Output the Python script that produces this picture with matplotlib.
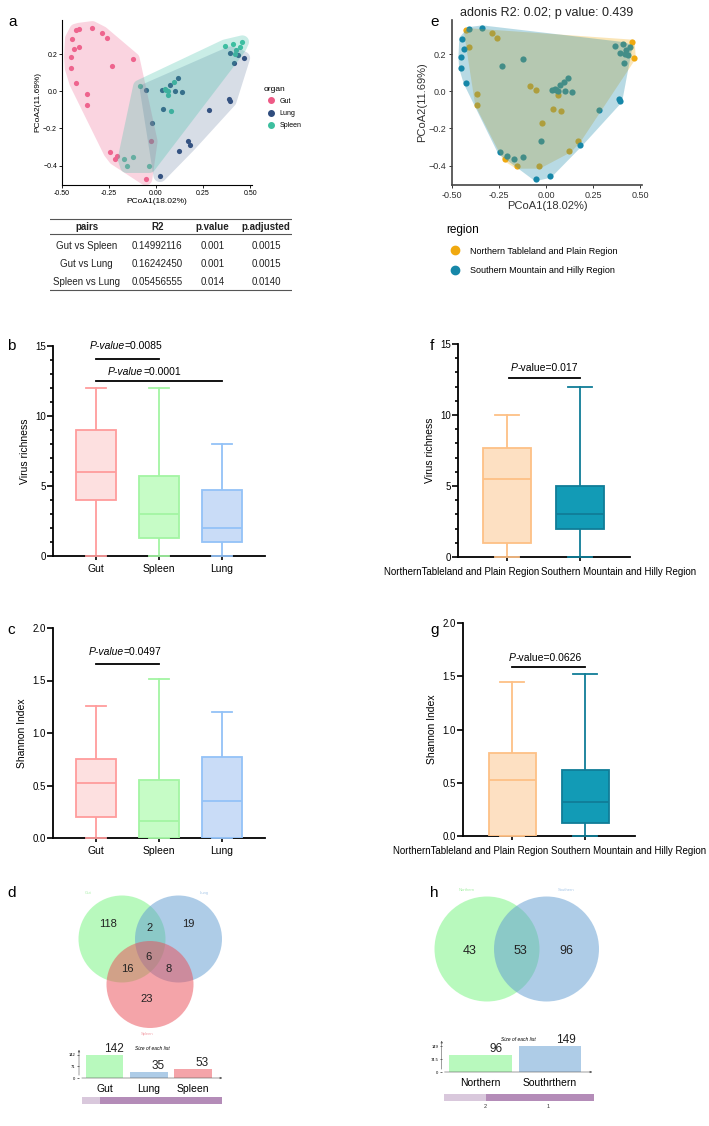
import numpy as np
import matplotlib.pyplot as plt
from matplotlib.patches import Circle, Polygon
from matplotlib.lines import Line2D

plt.rcParams['font.family'] = ['Liberation Sans', 'DejaVu Sans']

# ---- PCoA scores (same samples in panel a and e) ----
pc1 = [-0.408, -0.339, -0.426, -0.287, -0.262, -0.449, -0.436, -0.408, -0.454, -0.450,
       -0.426, -0.232, -0.122, -0.369, -0.365,
       -0.087, -0.051, 0.062, 0.033, 0.045, 0.073, 0.094, 0.119, 0.062, 0.101, 0.136, 0.054,
       0.035, 0.080, -0.020, 0.284, 0.390, 0.393, 0.172, 0.181, 0.124,
       0.367, 0.411, 0.394, 0.426, 0.447, 0.438, 0.415, 0.422, 0.459, 0.465,
       -0.027, -0.245, -0.206, -0.169, -0.121, -0.218, -0.156, -0.036, -0.055, 0.021]
pc2 = [0.335, 0.344, 0.330, 0.317, 0.288, 0.285, 0.231, 0.240, 0.186, 0.124,
       0.045, 0.137, 0.175, -0.013, -0.072,
       0.027, 0.009, -0.018, 0.005, 0.014, 0.032, 0.050, 0.074, 0.002, 0.002, -0.004, 0.009,
       -0.094, -0.106, -0.171, -0.099, -0.040, -0.052, -0.268, -0.288, -0.319,
       0.245, 0.254, 0.207, 0.222, 0.240, 0.195, 0.155, 0.204, 0.267, 0.180,
       -0.270, -0.328, -0.346, -0.364, -0.355, -0.364, -0.405, -0.405, -0.472, -0.454]
organ = (['Gut'] * 15 +
         ['Spleen', 'Lung', 'Spleen', 'Lung', 'Spleen', 'Lung', 'Spleen', 'Lung', 'Spleen', 'Lung', 'Lung', 'Spleen',
          'Lung', 'Spleen', 'Lung', 'Lung', 'Lung', 'Lung', 'Lung', 'Lung', 'Lung',
          'Spleen', 'Spleen', 'Lung', 'Spleen', 'Spleen', 'Lung', 'Lung', 'Spleen', 'Spleen', 'Lung',
          'Gut', 'Gut', 'Gut', 'Spleen', 'Spleen', 'Gut', 'Spleen', 'Spleen', 'Gut', 'Lung'])
region = (['S', 'S', 'N', 'N', 'N', 'S', 'S', 'N', 'S', 'S', 'S', 'S', 'S', 'N', 'N',
           'N', 'N', 'N', 'S', 'S', 'S', 'S', 'S', 'S', 'S', 'S', 'S',
           'N', 'N', 'N', 'S', 'S', 'S', 'N', 'S', 'N',
           'S', 'S', 'S', 'S', 'S', 'S', 'S', 'S', 'N', 'N',
           'S', 'S', 'S', 'S', 'S', 'N', 'N', 'N', 'S', 'S'])

# ---- adonis pairwise table ----
pairs = ['Gut vs Spleen', 'Gut vs Lung', 'Spleen vs Lung']
r2 = ['0.14992116', '0.16242450', '0.05456555']
pval = ['0.001', '0.001', '0.014']
padj = ['0.0015', '0.0015', '0.0140']

# ---- box plot summaries (whislo, q1, med, q3, whishi) ----
organs = ['Gut', 'Spleen', 'Lung']
rich_organ = [[0, 4.0, 6.0, 9.0, 12], [0, 1.3, 3.0, 5.7, 12], [0, 1.0, 2.0, 4.7, 8]]
shan_organ = [[0, 0.20, 0.52, 0.75, 1.26], [0, 0.0, 0.16, 0.55, 1.51], [0, 0.0, 0.35, 0.77, 1.20]]
regions = ['NorthernTableland and Plain Region', 'Southern Mountain and Hilly Region']
rich_region = [[0, 1.0, 5.5, 7.7, 10], [0, 2.0, 3.0, 5.0, 12]]
shan_region = [[0, 0.0, 0.53, 0.78, 1.45], [0, 0.12, 0.32, 0.62, 1.52]]

# ---- venn counts ----
venn3_counts = {'Gut': 118, 'Lung': 19, 'Spleen': 23, 'Gut&Lung': 2, 'Gut&Spleen': 16,
                'Lung&Spleen': 8, 'all': 6}
size3_names = ['Gut', 'Lung', 'Spleen']
size3 = [142, 35, 53]
venn2_counts = {'Northern': 43, 'both': 53, 'Southern': 96}
size2_names = ['Northern', 'Southrthern']
size2 = [96, 149]

W, H = 709, 1126
fig = plt.figure(figsize=(W / 100, H / 100), dpi=100)


def px_axes(x0, y0, x1, y1):
    return fig.add_axes([x0 / W, 1 - y1 / H, (x1 - x0) / W, (y1 - y0) / H])


def convex_hull(p):
    p = sorted(set(map(tuple, np.round(p, 6))))

    def cross(o, a, b):
        return (a[0] - o[0]) * (b[1] - o[1]) - (a[1] - o[1]) * (b[0] - o[0])
    lower, upper = [], []
    for q in p:
        while len(lower) >= 2 and cross(lower[-2], lower[-1], q) <= 0:
            lower.pop()
        lower.append(q)
    for q in reversed(p):
        while len(upper) >= 2 and cross(upper[-2], upper[-1], q) <= 0:
            upper.pop()
        upper.append(q)
    return np.array(lower[:-1] + upper[:-1])


def rounded_hull(x, y, r, n=32):
    t = np.linspace(0, 2 * np.pi, n, endpoint=False)
    pts = np.concatenate([np.column_stack([xi + r * np.cos(t), yi + r * np.sin(t)]) for xi, yi in zip(x, y)])
    return convex_hull(pts)


# overlay axes in pixel coords for letters and venns
ov = fig.add_axes([0, 0, 1, 1])
ov.set_xlim(0, W)
ov.set_ylim(H, 0)
ov.axis('off')
for lab, x, y in [('a', 8, 22), ('e', 430, 22), ('b', 7, 346), ('f', 430, 346),
                  ('c', 7, 630), ('g', 430, 630), ('d', 7, 893), ('h', 430, 893)]:
    ov.text(x, y, lab, fontsize=11, va='center', ha='left')

pc1 = np.array(pc1)
pc2 = np.array(pc2)
organ = np.array(organ)
region = np.array(region)

# ================= panel a =================
ax = px_axes(62, 20, 252, 185)
org_col = {'Gut': '#ee5a86', 'Lung': '#2f4d7e', 'Spleen': '#3dbf9f'}
org_fill = {'Gut': '#f07aa0', 'Lung': '#4a6590', 'Spleen': '#3dbfa8'}
for o in ['Gut', 'Lung', 'Spleen']:
    m = organ == o
    ax.scatter(pc1[m], pc2[m], s=14, color=org_col[o], lw=0, zorder=2)
for o, a in [('Gut', 0.32), ('Lung', 0.22), ('Spleen', 0.28)]:
    m = organ == o
    hv = rounded_hull(pc1[m], pc2[m], 0.035)
    ax.add_patch(Polygon(hv, closed=True, fc=org_fill[o], ec='none', alpha=a, zorder=3))
ax.set_xlim(-0.5, 0.51)
ax.set_ylim(-0.505, 0.385)
ax.set_xticks([-0.5, -0.25, 0, 0.25, 0.5])
ax.set_xticklabels(['-0.50', '-0.25', '0.00', '0.25', '0.50'])
ax.set_yticks([-0.4, -0.2, 0.0, 0.2])
ax.tick_params(labelsize=5, length=2, width=0.6, pad=1.5)
for s in ['top', 'right']:
    ax.spines[s].set_visible(False)
for s in ['left', 'bottom']:
    ax.spines[s].set_linewidth(0.8)
ax.set_xlabel('PCoA1(18.02%)', fontsize=6, labelpad=1)
ax.set_ylabel('PCoA2(11.69%)', fontsize=6, labelpad=1)
ax.patch.set_alpha(0)
hs = [Line2D([], [], marker='o', ls='', color=org_col[o], markersize=4) for o in ['Gut', 'Lung', 'Spleen']]
lg = ax.legend(hs, ['Gut', 'Lung', 'Spleen'], title='organ', loc='center left', bbox_to_anchor=(1.03, 0.47),
               frameon=False, fontsize=5, title_fontsize=6, handletextpad=0.2, labelspacing=0.75)
lg._legend_box.align = 'left'

# ================= table =================
tx = px_axes(50, 215, 292, 295)
tx.set_xlim(50, 292)
tx.set_ylim(295, 215)
tx.axis('off')
for yl in [219, 233.5, 290]:
    tx.plot([50, 292], [yl, yl], color='#555555', lw=0.8)
cols_x = [86.7, 157.3, 212.7, 266]
for cx, h in zip(cols_x, ['pairs', 'R2', 'p.value', 'p.adjusted']):
    tx.text(cx, 226.5, h, ha='center', va='center', fontsize=7, fontweight='bold', color='#222222')
for i in range(3):
    yy = 246.3 + i * 17.7
    for cx, v in zip(cols_x, [pairs[i], r2[i], pval[i], padj[i]]):
        tx.text(cx, yy, v, ha='center', va='center', fontsize=7, color='#222222')

# ================= panel e =================
ax = px_axes(452, 20, 642, 185)
reg_col = {'N': '#f0a90f', 'S': '#1687a8'}
for r in ['N', 'S']:
    m = region == r
    ax.scatter(pc1[m], pc2[m], s=20, color=reg_col[r], lw=0, zorder=2)
for r in ['N', 'S']:
    m = region == r
    hv = rounded_hull(pc1[m], pc2[m], 0.012)
    ax.add_patch(Polygon(hv, closed=True, fc=reg_col[r], ec='none', alpha=0.3, zorder=3))
ax.set_xlim(-0.5, 0.51)
ax.set_ylim(-0.505, 0.385)
ax.set_xticks([-0.5, -0.25, 0, 0.25, 0.5])
ax.set_xticklabels(['-0.50', '-0.25', '0.00', '0.25', '0.50'])
ax.set_yticks([-0.4, -0.2, 0.0, 0.2])
ax.tick_params(labelsize=6.5, length=2.5, width=0.7, pad=1.5, colors='#333333')
for s in ['top', 'right']:
    ax.spines[s].set_visible(False)
for s in ['left', 'bottom']:
    ax.spines[s].set_linewidth(1.2)
    ax.spines[s].set_color('#444444')
ax.set_xlabel('PCoA1(18.02%)', fontsize=8, labelpad=1, color='#333333')
ax.set_ylabel('PCoA2(11.69%)', fontsize=8, labelpad=1, color='#333333')
ax.set_title('adonis R2: 0.02; p value: 0.439', fontsize=9, pad=3, loc='center', color='#222222')
ax.patch.set_alpha(0)
hs = [Line2D([], [], marker='o', ls='', color=reg_col[r], markersize=6) for r in ['N', 'S']]
lg = fig.legend(hs, ['Northern Tableland and Plain Region', 'Southern Mountain and Hilly Region'],
                title='region', loc='upper left', bbox_to_anchor=(438 / W, 1 - 216 / H),
                frameon=False, fontsize=6.5, title_fontsize=8.5, handletextpad=0.6, labelspacing=1.15)
lg._legend_box.align = 'left'


# ================= box plots =================
def box_panel(rect, cats, data, edges, faces, ylim, yticks, minor, ylabel, xlim, width, sig, xlab):
    ax = px_axes(*rect)
    stats = [dict(whislo=d[0], q1=d[1], med=d[2], q3=d[3], whishi=d[4], fliers=[]) for d in data]
    pos = list(range(len(cats)))
    bp = ax.bxp(stats, positions=pos, widths=width, patch_artist=True, showfliers=False,
                capwidths=width * 0.5)
    for i in pos:
        bp['boxes'][i].set(facecolor=faces[i], edgecolor=edges[i], lw=1.3, zorder=3)
        bp['medians'][i].set(color=edges[i], lw=1.3, zorder=4)
        for k in (2 * i, 2 * i + 1):
            bp['whiskers'][k].set(color=edges[i], lw=1.3, zorder=2)
            bp['caps'][k].set(color=edges[i], lw=1.3, zorder=5, clip_on=False)
    ax.set_xlim(*xlim)
    ax.set_ylim(*ylim)
    ax.set_yticks(yticks)
    if minor is not None:
        ax.set_yticks(minor, minor=True)
    ax.set_xticks(pos)
    if xlab is None:
        ax.set_xticklabels(cats, fontsize=7.5)
    else:
        # long labels: placed side by side like the original export
        ax.set_xticklabels([])
        ly, (xr, xl) = xlab
        ov.text(xr, ly, cats[0], ha='right', va='center', fontsize=7)
        ov.text(xl, ly, cats[1], ha='left', va='center', fontsize=7)
    ax.tick_params(axis='y', labelsize=7, length=4, width=1.2, pad=1)
    ax.tick_params(axis='y', which='minor', length=2.5, width=1.2)
    ax.tick_params(axis='x', length=3, width=1.2, pad=3)
    for s in ['top', 'right']:
        ax.spines[s].set_visible(False)
    for s in ['left', 'bottom']:
        ax.spines[s].set_linewidth(1.3)
    ax.set_ylabel(ylabel, fontsize=7.5, labelpad=4)
    for x0, x1, yb, tx0, ty, ptxt, full_it in sig:
        ax.plot([x0, x1], [yb, yb], color='black', lw=1.3, clip_on=False)
        if full_it:
            t1 = ax.text(tx0, ty, 'P-value', style='italic', fontsize=7.5, va='center', ha='left')
            ax.annotate('=' + ptxt, xy=(1, 0.5), xycoords=t1, va='center', ha='left', fontsize=7.5)
        else:
            t1 = ax.text(tx0, ty, 'P', style='italic', fontsize=7.5, va='center', ha='left')
            ax.annotate('-value=' + ptxt, xy=(1, 0.5), xycoords=t1, va='center', ha='left', fontsize=7.5)
    ax.patch.set_alpha(0)
    return ax


org_edge = ['#ff9c9c', '#a3f5a3', '#93c2f7']
org_face = ['#fde0e0', '#c6fcc6', '#c9dcf7']
reg_edge = ['#fdc086', '#107d97']
reg_face = ['#fde0c2', '#129bb6']

box_panel((53, 346, 265, 556), organs, rich_organ, org_edge, org_face, (0, 15), [0, 5, 10, 15],
          np.arange(0, 16), 'Virus richness', (-0.683, 2.683), 0.63,
          [(0, 1, 14.05, -0.1, 15.0, '0.0085', True), (0, 2, 12.5, 0.19, 13.16, '0.0001', True)], None)
box_panel((53, 628, 265, 838), organs, shan_organ, org_edge, org_face, (0, 2), [0, 0.5, 1.0, 1.5, 2.0],
          None, 'Shannon Index', (-0.683, 2.683), 0.63,
          [(0, 1, 1.657, -0.12, 1.774, '0.0497', True)], None)
box_panel((458, 344, 630, 557), regions, rich_region, reg_edge, reg_face, (0, 15), [0, 5, 10, 15],
          np.arange(0, 16), 'Virus richness', (-0.66, 1.675), 0.65,
          [(0.03, 1.0, 12.6, 0.06, 13.33, '0.017', False)], (572, (539, 541)))
box_panel((463, 623, 635, 836), regions, shan_region, reg_edge, reg_face, (0, 2), [0, 0.5, 1.0, 1.5, 2.0],
          None, 'Shannon Index', (-0.675, 1.68), 0.65,
          [(0.0, 1.0, 1.587, -0.05, 1.675, '0.0626', False)], (851, (548, 551)))

# ================= venn d =================
c_gut = '#73f57d'
c_lung = '#5f9bd1'
c_spl = '#eb4b55'
for (cx, cy), col in [((122, 939), c_gut), ((178.5, 939), c_lung), ((150, 984.5), c_spl)]:
    ov.add_patch(Circle((cx, cy), 43.5, fc=col, ec='none', alpha=0.5))
vpos3 = {'Gut': (108, 924), 'Lung': (188, 924), 'Spleen': (147, 999), 'Gut&Lung': (150, 928),
         'Gut&Spleen': (127, 969), 'Lung&Spleen': (169, 969), 'all': (149, 957)}
for k, v in venn3_counts.items():
    ov.text(*vpos3[k], str(v), ha='center', va='center', fontsize=8, color='#222222')
ov.text(88, 893, 'Gut', fontsize=3, color='#a8f0a8', ha='center', va='center')
ov.text(204, 893, 'Lung', fontsize=3, color='#a9c8e8', ha='center', va='center')
ov.text(147, 1034, 'Spleen', fontsize=3, color='#f2a0a8', ha='center', va='center')

# ================= venn h =================
for (cx, cy), col in [((487, 949), c_gut), ((546.5, 949), c_lung)]:
    ov.add_patch(Circle((cx, cy), 52.5, fc=col, ec='none', alpha=0.5))
vpos2 = {'Northern': (470, 951), 'both': (520.5, 951), 'Southern': (566, 951)}
for k, v in venn2_counts.items():
    ov.text(*vpos2[k], str(v), ha='center', va='center', fontsize=9, color='#222222')
ov.text(467, 890, 'Northern', fontsize=3, color='#a8f0a8', ha='center', va='center')
ov.text(566, 890, 'Southern', fontsize=3, color='#a9c8e8', ha='center', va='center')


# ================= size bars =================
def size_bars(rect, names, vals, cols, xlim, ylim, width, yt, ytl):
    ax = px_axes(*rect)
    ax.bar(range(len(vals)), vals, width=width, color=cols, alpha=0.5, lw=0)
    for i, v in enumerate(vals):
        ax.text(i + width * 0.25, v, str(v), ha='center', va='bottom', fontsize=8.5, color='#222222')
    ax.set_xlim(*xlim)
    ax.set_ylim(*ylim)
    ax.set_yticks(yt)
    ax.set_yticklabels(ytl)
    ax.set_xticks(range(len(vals)))
    ax.set_xticklabels(names, fontsize=7.5)
    ax.tick_params(axis='y', labelsize=3, length=1.5, width=0.4, pad=1)
    ax.tick_params(axis='x', length=0, pad=4)
    for s in ['top', 'right', 'left', 'bottom']:
        ax.spines[s].set_visible(False)
    ax.annotate('', xy=(1, 0), xytext=(0, 0), xycoords='axes fraction',
                arrowprops=dict(arrowstyle='-|>', lw=0.4, color='#555555', mutation_scale=3))
    ax.annotate('', xy=(0, 1), xytext=(0, 0), xycoords='axes fraction',
                arrowprops=dict(arrowstyle='-|>', lw=0.4, color='#555555', mutation_scale=3))
    ax.text(0.5, 0.95, 'Size of each list', transform=ax.transAxes, fontsize=3.5, style='italic',
            ha='center', va='center')
    ax.patch.set_alpha(0)
    return ax


size_bars((79, 1047, 225, 1078), size3_names, size3, [c_gut, c_lung, c_spl], (-0.573, 2.72), (0, 191), 0.85,
          [0, 71, 142], ['0', '71', '142'])
size_bars((441.7, 1038, 595, 1072), size2_names, size2, [c_gut, c_lung], (-0.557, 1.65), (0, 197), 0.9,
          [0, 74.5, 149], ['0', '74.5', '149'])

# summary strips under the size bars
ov.add_patch(plt.Rectangle((82, 1097), 18, 7, fc='#d9c8dc', ec='none'))
ov.add_patch(plt.Rectangle((100, 1097), 122, 7, fc='#b48cb8', ec='none'))
ov.add_patch(plt.Rectangle((444, 1094), 42, 7, fc='#d9c8dc', ec='none'))
ov.add_patch(plt.Rectangle((486, 1094), 108, 7, fc='#b48cb8', ec='none'))
ov.text(485, 1106, '2', fontsize=4, ha='center', va='center', color='#333333')
ov.text(548, 1106, '1', fontsize=4, ha='center', va='center', color='#333333')

fig.savefig('out.png', dpi=100)
